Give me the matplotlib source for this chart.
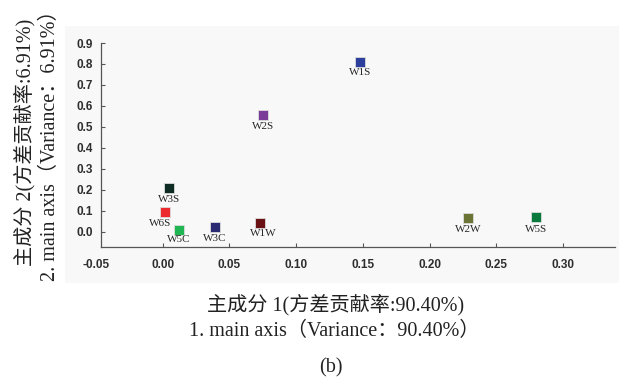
import matplotlib.pyplot as plt
from matplotlib.patches import Rectangle

# PCA scores of the samples on the first two principal components
samples = ['W1S', 'W2S', 'W3S', 'W6S', 'W5C', 'W3C', 'W1W', 'W2W', 'W5S']
pc1 = [0.148, 0.075, 0.005, 0.002, 0.012, 0.039, 0.073, 0.229, 0.280]
pc2 = [0.811, 0.557, 0.210, 0.096, 0.008, 0.024, 0.043, 0.064, 0.069]
colors = ['#2c3f9c', '#7a3a98', '#0e2b24', '#ec2a2e', '#1fb552',
          '#2a2a72', '#6a1114', '#6b7434', '#0a7a3c']
# label nudges (points) for crowded samples
label_dx = [0, 0, 0, -3.4, 0, 0, 2.2, 0, 0]
label_dy = [-8.0, -8.4, -8.3, -8.8, -6.6, -8.6, -7.6, -8.4, -9.1]

xticks = [-0.05, 0.00, 0.05, 0.10, 0.15, 0.20, 0.25, 0.30]
yticks = [0.0, 0.1, 0.2, 0.3, 0.4, 0.5, 0.6, 0.7, 0.8, 0.9]

serif_cjk = ['Liberation Serif', 'Noto Sans CJK SC']

fig = plt.figure(figsize=(6.19, 3.81), dpi=100)
fig.patch.set_facecolor('white')

# light grey plotting panel
fig.patches.append(Rectangle((65 / 619, 1 - 283 / 381), 554 / 619, 257 / 381,
                             transform=fig.transFigure, facecolor='#f8f8f8',
                             edgecolor='none', zorder=-5))

ax = fig.add_axes([96 / 619, 1 - 247 / 381, 519 / 619, 204 / 381])
ax.set_facecolor('none')
ax.set_zorder(2)

for x, y, c, name, dx, dy in zip(pc1, pc2, colors, samples, label_dx, label_dy):
    ax.plot(x, y, marker='s', markersize=7.4, color=c,
            markeredgecolor='#dcdcdc', markeredgewidth=0.6, linestyle='none')
    ax.annotate(name, (x, y), xytext=(dx, dy), textcoords='offset points',
                ha='center', va='center', fontsize=8,
                family='Liberation Serif', color='#262626')

ax.set_xlim(-0.05, 0.339)
ax.set_ylim(-0.073, 0.9)
ax.set_xticks(xticks)
ax.set_yticks(yticks)
ax.set_xticklabels([f'{t:.2f}' for t in xticks])
ax.set_yticklabels([f'{t:.1f}' for t in yticks])

for s in ['top', 'right']:
    ax.spines[s].set_visible(False)
ax.spines['left'].set_position(('data', -0.0463))
ax.spines['bottom'].set_bounds(-0.0463, 0.339)
for s in ['left', 'bottom']:
    ax.spines[s].set_color('#555555')
    ax.spines[s].set_linewidth(0.9)

ax.tick_params(direction='in', length=3, width=0.8, color='#555555',
               labelcolor='#2e2e2e', labelsize=8.5)
ax.tick_params(axis='x', pad=9)
ax.tick_params(axis='y', pad=6)
ax.xaxis.get_major_ticks()[0].tick1line.set_visible(False)
for lbl in ax.get_xticklabels() + ax.get_yticklabels():
    lbl.set_family('Liberation Sans')
    lbl.set_fontweight('bold')

# axis titles
fs = 14.5
fig.text(336 / 619, 1 - 305 / 381, '主成分 1(方差贡献率:90.40%)',
         ha='center', va='center', fontsize=fs, family=serif_cjk, color='#222222')
fig.text(334 / 619, 1 - 331 / 381, '1. main axis（Variance：90.40%）',
         ha='center', va='center', fontsize=fs, family=serif_cjk, color='#222222')
fig.text(331 / 619, 1 - 368 / 381, '(b)',
         ha='center', va='center', fontsize=fs, family=serif_cjk, color='#222222')
fig.text(25 / 619, 1 - 142 / 381, '主成分 2(方差贡献率:6.91%)', rotation=90,
         ha='center', va='center', fontsize=fs, family=serif_cjk, color='#222222')
fig.text(50 / 619, 1 - 141 / 381, '2. main axis（Variance：6.91%）', rotation=90,
         ha='center', va='center', fontsize=fs, family=serif_cjk, color='#222222')

fig.savefig('out.png', dpi=100)
